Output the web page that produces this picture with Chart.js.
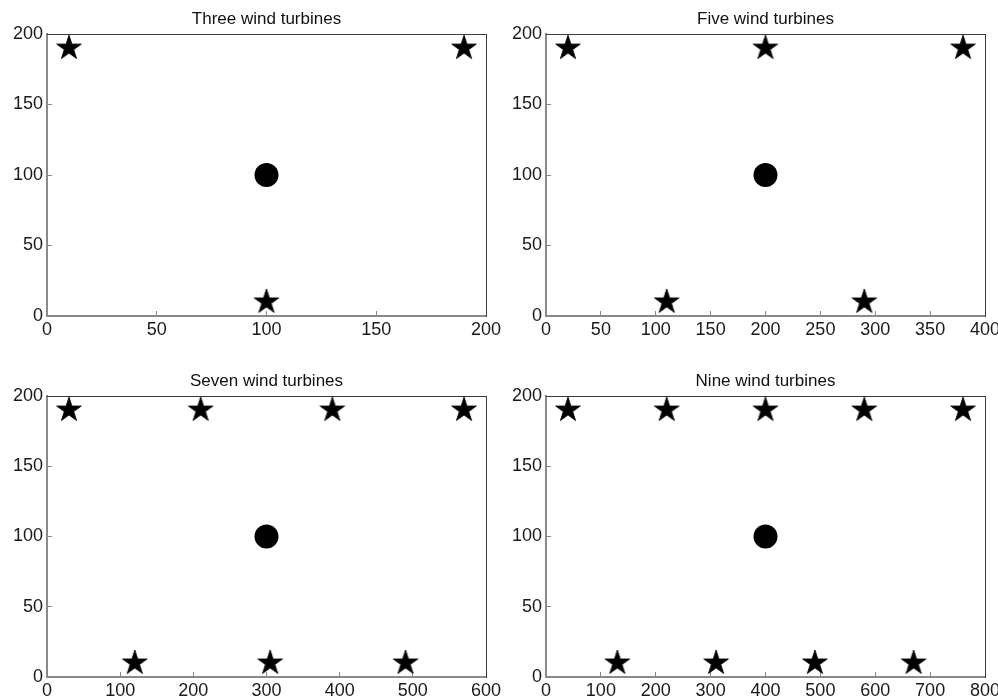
<!DOCTYPE html>
<html>
<head>
<meta charset="utf-8">
<script src="https://cdn.jsdelivr.net/npm/chart.js@4/dist/chart.umd.min.js"></script>
<style>
  html, body { margin: 0; padding: 0; background: #fff; }
  body { width: 998px; height: 700px; position: relative; overflow: hidden; }
  .panel { position: absolute; }
  .panel canvas { display: block; }
</style>
</head>
<body>
<div class="panel" style="left:0px;top:0px;"><canvas id="c1" width="520" height="360"></canvas></div>
<div class="panel" style="left:499px;top:0px;"><canvas id="c2" width="499" height="360"></canvas></div>
<div class="panel" style="left:0px;top:362px;"><canvas id="c3" width="520" height="338"></canvas></div>
<div class="panel" style="left:499px;top:362px;"><canvas id="c4" width="499" height="338"></canvas></div>
<script>
// ---------- data ----------
const titles = ["Three wind turbines", "Five wind turbines", "Seven wind turbines", "Nine wind turbines"];
const xMaxes = [200, 400, 600, 800];
const xSteps = [50, 50, 100, 100];
const yMin = 0, yMax = 200, yStep = 50;

const threeStarX = [10, 190, 100];
const threeStarY = [190, 190, 10];
const threeHubX = [100];
const threeHubY = [100];

const fiveStarX = [20, 200, 380, 110, 290];
const fiveStarY = [190, 190, 190, 10, 10];
const fiveHubX = [200];
const fiveHubY = [100];

const sevenStarX = [30, 210, 390, 570, 120, 305, 490];
const sevenStarY = [190, 190, 190, 190, 10, 10, 10];
const sevenHubX = [300];
const sevenHubY = [100];

const nineStarX = [40, 220, 400, 580, 760, 130, 310, 490, 670];
const nineStarY = [190, 190, 190, 190, 190, 10, 10, 10, 10];
const nineHubX = [400];
const nineHubY = [100];

const starXs = [threeStarX, fiveStarX, sevenStarX, nineStarX];
const starYs = [threeStarY, fiveStarY, sevenStarY, nineStarY];
const hubXs = [threeHubX, fiveHubX, sevenHubX, nineHubX];
const hubYs = [threeHubY, fiveHubY, sevenHubY, nineHubY];

// ---------- styling ----------
const FONT = "'Liberation Sans', Arial, Helvetica, sans-serif";

// filled five-pointed star used as point style
function makeStar(R) {
  const size = Math.ceil(R * 2 + 4);
  const c = document.createElement('canvas');
  c.width = size; c.height = size;
  const ctx = c.getContext('2d');
  const cx = size / 2, cy = size / 2, r = R * 0.381966;
  ctx.beginPath();
  for (let i = 0; i < 10; i++) {
    const rad = (i % 2 === 0) ? R : r;
    const a = -Math.PI / 2 + i * Math.PI / 5;
    const px = cx + rad * Math.cos(a), py = cy + rad * Math.sin(a);
    if (i === 0) ctx.moveTo(px, py); else ctx.lineTo(px, py);
  }
  ctx.closePath();
  ctx.fillStyle = '#000';
  ctx.fill();
  ctx.lineWidth = 0.8;
  ctx.strokeStyle = '#000';
  ctx.stroke();
  return c;
}
const starImg = makeStar(13);

function pts(xs, ys) { return xs.map((x, i) => ({ x: x, y: ys[i] })); }

// layout per panel: y-axis width, padding right, padding bottom
const layouts = [
  { yW: 47, padR: 34, padB: 21 },
  { yW: 47, padR: 13, padB: 21 },
  { yW: 47, padR: 34, padB: 0 },
  { yW: 47, padR: 13, padB: 0 }
];

function makeChart(idx) {
  const L = layouts[idx];
  new Chart(document.getElementById('c' + (idx + 1)), {
    type: 'scatter',
    data: {
      datasets: [
        {
          label: 'turbines',
          data: pts(starXs[idx], starYs[idx]),
          pointStyle: starImg,
          pointRadius: 12,
          clip: false
        },
        {
          label: 'centre',
          data: pts(hubXs[idx], hubYs[idx]),
          pointStyle: 'circle',
          pointRadius: 12,
          backgroundColor: '#000',
          borderColor: '#000',
          borderWidth: 0,
          clip: false
        }
      ]
    },
    options: {
      responsive: false,
      animation: false,
      events: [],
      layout: { padding: { left: 0, top: 0, right: L.padR, bottom: L.padB } },
      plugins: {
        legend: { display: false },
        tooltip: { enabled: false },
        title: {
          display: true,
          text: titles[idx],
          fullSize: false,
          color: '#111',
          font: { family: FONT, size: 17, weight: 'normal', lineHeight: 1.2 },
          padding: { top: 9, bottom: 4.6 }
        }
      },
      scales: {
        x: {
          type: 'linear', position: 'bottom',
          min: 0, max: xMaxes[idx],
          ticks: { stepSize: xSteps[idx], color: '#1a1a1a', padding: 8, font: { family: FONT, size: 18 } },
          grid: { drawOnChartArea: false, drawTicks: true, tickLength: -5, color: '#888', lineWidth: 1 },
          border: { display: true, color: '#8a8a8a', width: 2 },
          afterFit: s => { s.height = 23; s.paddingLeft = 0; s.paddingRight = 0; }
        },
        y: {
          type: 'linear', position: 'left',
          min: yMin, max: yMax,
          ticks: { stepSize: yStep, color: '#1a1a1a', padding: 9, font: { family: FONT, size: 18 } },
          grid: { drawOnChartArea: false, drawTicks: true, tickLength: -5, color: '#888', lineWidth: 1 },
          border: { display: true, color: '#8a8a8a', width: 2 },
          afterFit: s => { s.width = L.yW; s.paddingTop = 0; s.paddingBottom = 0; }
        },
        xTop: {
          type: 'linear', position: 'top',
          min: 0, max: xMaxes[idx],
          ticks: { display: false },
          grid: { drawOnChartArea: false, drawTicks: false },
          border: { display: true, color: '#3a3a3a', width: 1 },
          afterFit: s => { s.height = 0; s.paddingLeft = 0; s.paddingRight = 0; }
        },
        yRight: {
          type: 'linear', position: 'right',
          min: yMin, max: yMax,
          ticks: { display: false },
          grid: { drawOnChartArea: false, drawTicks: false },
          border: { display: true, color: '#3a3a3a', width: 1 },
          afterFit: s => { s.width = 0; s.paddingTop = 0; s.paddingBottom = 0; }
        }
      }
    }
  });
}

for (let i = 0; i < 4; i++) makeChart(i);
</script>
</body>
</html>
